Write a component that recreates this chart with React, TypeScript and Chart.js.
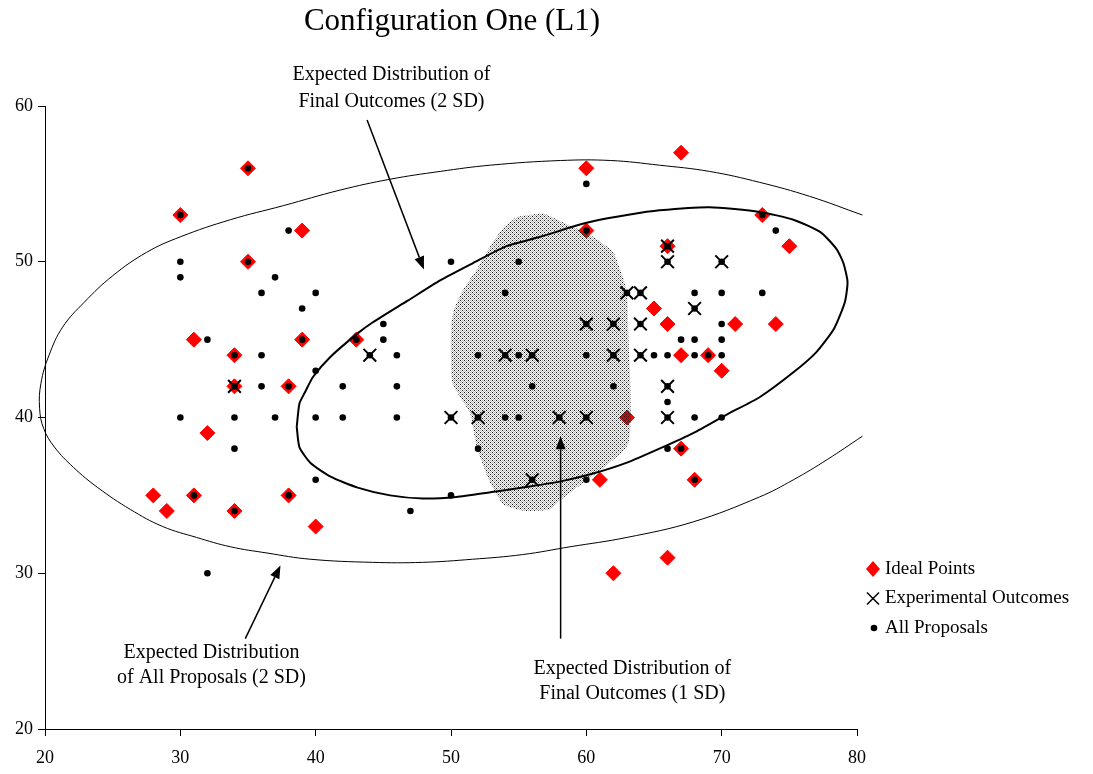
import React, { useEffect, useRef } from 'react';
import { Chart, registerables } from 'chart.js';

Chart.register(...registerables);

const TITLE = 'Configuration One (L1)';
const X_TICKS = [20, 30, 40, 50, 60, 70, 80];
const Y_TICKS = [20, 30, 40, 50, 60];

const SERIES_NAMES = ['Ideal Points', 'Experimental Outcomes', 'All Proposals'];

const idealPoints: [number, number][] = [
  [30, 53], [35, 56], [39, 52], [35, 50], [31, 45], [39, 45], [43, 45], [34, 44], [34, 42], [38, 42],
  [32, 39], [28, 35], [29, 34], [31, 35], [34, 34], [38, 35], [40, 33], [60, 56], [67, 57], [60, 52],
  [66, 51], [73, 53], [75, 51], [65, 47], [66, 46], [71, 46], [74, 46], [67, 44], [69, 44], [70, 43],
  [63, 40], [67, 38], [61, 36], [68, 36], [62, 30], [66, 31],
];

const experimentalOutcomes: [number, number][] = [
  [34, 42], [44, 44], [50, 40], [52, 40], [54, 44], [56, 44], [58, 40], [56, 36], [60, 40], [60, 46],
  [62, 46], [64, 46], [62, 44], [64, 44], [63, 48], [64, 48], [66, 51], [66, 50], [70, 50], [68, 47],
  [66, 42], [66, 40],
];

const allProposals: [number, number][] = [
  // left group
  [30, 53], [35, 56], [38, 52], [30, 50], [35, 50], [30, 49], [37, 49], [36, 48], [40, 48], [39, 47],
  [45, 46], [32, 45], [39, 45], [43, 45], [45, 45], [34, 44], [36, 44], [44, 44], [46, 44], [40, 43],
  [34, 42], [36, 42], [38, 42], [42, 42], [46, 42], [30, 40], [34, 40], [37, 40], [40, 40], [42, 40],
  [46, 40], [34, 38], [40, 36], [31, 35], [38, 35], [34, 34], [32, 30],
  // middle group
  [50, 50], [55, 50], [54, 48], [52, 44], [54, 44], [55, 44], [56, 44], [56, 42], [50, 40], [52, 40],
  [54, 40], [55, 40], [58, 40], [52, 38], [56, 36], [50, 35], [47, 34],
  // right group
  [60, 55], [60, 52], [66, 51], [73, 53], [74, 52], [66, 50], [70, 50], [63, 48], [64, 48], [68, 48],
  [70, 48], [73, 48], [68, 47], [60, 46], [62, 46], [64, 46], [70, 46], [67, 45], [68, 45], [70, 45],
  [60, 44], [62, 44], [64, 44], [65, 44], [66, 44], [68, 44], [69, 44], [70, 44], [62, 42], [66, 42],
  [66, 41], [60, 40], [66, 40], [68, 40], [70, 40], [66, 38], [67, 38], [68, 36], [60, 36],
];

// Expected distribution of all proposals (2 SD) – traced outline
const outerEllipse: [number, number][] = [
  [80.4, 53.0], [76.5, 54.2], [72.8, 55.1], [69.1, 55.8], [65.4, 56.2], [61.8, 56.5], [58.1, 56.5],
  [52.9, 56.2], [49.2, 55.8], [45.5, 55.3], [41.8, 54.6], [37.6, 53.6], [33.7, 52.7],
  [30.0, 51.6], [27.5, 50.6], [25.0, 49.1], [22.9, 47.4], [21.3, 45.8], [20.3, 44.0], [19.7, 42.2],
  [19.6, 40.6], [19.9, 39.3], [20.7, 38.1], [22.1, 36.8], [23.9, 35.5], [26.3, 34.1], [28.7, 33.0],
  [31.2, 32.3], [33.7, 31.7], [36.4, 31.3], [39.6, 30.9], [44.2, 30.7], [47.9, 30.7], [51.6, 30.9],
  [55.3, 31.2], [58.8, 31.7], [63.0, 32.3], [67.9, 33.3], [72.8, 34.9], [75.3, 36.0], [77.8, 37.3],
  [80.4, 38.8],
];

// Expected distribution of final outcomes (2 SD) – traced outline
const innerEllipse: [number, number][] = [
  [38.6, 39.4], [38.8, 40.9], [39.2, 41.6], [39.8, 42.6], [41.1, 43.9], [43.1, 45.4], [44.2, 46.1],
  [46.8, 47.5], [49.2, 48.8], [51.6, 49.9], [54.1, 51.0], [56.6, 51.6], [58.8, 52.2], [60.5, 52.6],
  [63.0, 53.0], [65.4, 53.3], [69.1, 53.5], [72.8, 53.2], [75.3, 52.7], [77.3, 51.9], [78.5, 50.8],
  [79.0, 49.9], [79.3, 48.7], [79.1, 47.4], [78.3, 45.7], [77.0, 44.2], [75.3, 42.9], [72.8, 41.3],
  [70.4, 40.2], [67.9, 39.0], [65.4, 38.0], [63.0, 37.1], [60.5, 36.4], [58.1, 35.9], [55.3, 35.5],
  [52.9, 35.2], [50.4, 34.9], [47.9, 34.8], [45.5, 35.0], [43.1, 35.5], [41.1, 36.2], [39.6, 37.1],
  [38.8, 38.1], [38.6, 39.4],
];

// Expected distribution of final outcomes (1 SD) – shaded region outline
const shadedRegion: [number, number][] = [
  [54.9, 52.9], [56.8, 53.1], [58.1, 52.6], [60.5, 51.6], [62.0, 50.6], [62.7, 49.0], [63.0, 48.0],
  [63.1, 45.6], [63.1, 38.3], [58.1, 34.7], [57.3, 34.1], [55.5, 34.0], [53.9, 34.4], [52.9, 35.8],
  [51.9, 38.1], [51.4, 40.3], [50.1, 42.2], [50.0, 45.6], [50.2, 46.9], [50.9, 48.2], [51.9, 49.5],
  [52.9, 51.0], [53.9, 52.2], [54.9, 52.9],
];

// annotations (data coordinates)
const annotationTexts: { lines: string[]; x: number; y: number[] }[] = [
  { lines: ['Expected Distribution of', 'Final Outcomes (2 SD)'], x: 45.6, y: [62.0, 60.3] },
  { lines: ['Expected Distribution', 'of All Proposals (2 SD)'], x: 32.3, y: [24.9, 23.3] },
  { lines: ['Expected Distribution of', 'Final Outcomes (1 SD)'], x: 63.4, y: [23.85, 22.25] },
];
const annotationArrows: { from: [number, number]; to: [number, number] }[] = [
  { from: [43.8, 59.1], to: [48.0, 49.5] },
  { from: [34.8, 25.8], to: [37.4, 30.5] },
  { from: [58.1, 25.8], to: [58.1, 38.8] },
];

const SERIF = '"Liberation Serif", "Times New Roman", Times, serif';
const toXY = (arr: [number, number][]) => arr.map(([x, y]) => ({ x, y }));

function makePattern(ctx: CanvasRenderingContext2D): CanvasPattern | string {
  const c = document.createElement('canvas');
  c.width = 4;
  c.height = 4;
  const p = c.getContext('2d');
  if (!p) return '#bbbbbb';
  const cells = [
    [0.9, 0, 0.3, 0],
    [0, 0.3, 0, 0.3],
    [0.3, 0, 0.9, 0],
    [0, 0.3, 0, 0.3],
  ];
  for (let r = 0; r < 4; r++) {
    for (let col = 0; col < 4; col++) {
      const a = cells[r][col];
      if (a > 0) {
        p.fillStyle = `rgba(0,0,0,${a})`;
        p.fillRect(col, r, 1, 1);
      }
    }
  }
  return ctx.createPattern(c, 'repeat') || '#bbbbbb';
}

const overlayPlugin = {
  id: 'overlay',
  afterDatasetsDraw(chart: any) {
    const { ctx, chartArea } = chart;
    const xs = chart.scales.x;
    const ys = chart.scales.y;
    ctx.save();
    // arrows
    ctx.strokeStyle = '#000';
    ctx.fillStyle = '#000';
    ctx.lineWidth = 1.5;
    for (const a of annotationArrows) {
      const x1 = xs.getPixelForValue(a.from[0]);
      const y1 = ys.getPixelForValue(a.from[1]);
      const x2 = xs.getPixelForValue(a.to[0]);
      const y2 = ys.getPixelForValue(a.to[1]);
      const ang = Math.atan2(y2 - y1, x2 - x1);
      const headLen = 13;
      const headW = 5;
      const bx = x2 - Math.cos(ang) * headLen;
      const by = y2 - Math.sin(ang) * headLen;
      ctx.beginPath();
      ctx.moveTo(x1, y1);
      ctx.lineTo(bx, by);
      ctx.stroke();
      ctx.beginPath();
      ctx.moveTo(x2, y2);
      ctx.lineTo(bx + Math.sin(ang) * headW, by - Math.cos(ang) * headW);
      ctx.lineTo(bx - Math.sin(ang) * headW, by + Math.cos(ang) * headW);
      ctx.closePath();
      ctx.fill();
    }
    // annotation texts
    ctx.font = `20px ${SERIF}`;
    ctx.textAlign = 'center';
    ctx.textBaseline = 'middle';
    for (const t of annotationTexts) {
      const px = xs.getPixelForValue(t.x);
      t.lines.forEach((line, i) => {
        ctx.fillText(line, px, ys.getPixelForValue(t.y[i]));
      });
    }
    // title
    ctx.font = `31px ${SERIF}`;
    ctx.fillText(TITLE, 452, 22);
    // legend
    const lx = chartArea.right + 16;
    const ly0 = chartArea.bottom - 160;
    const gap = 29.5;
    ctx.font = `19px ${SERIF}`;
    ctx.textAlign = 'left';
    SERIES_NAMES.forEach((name, i) => {
      const cy = ly0 + i * gap;
      if (i === 0) {
        ctx.fillStyle = '#ff0000';
        ctx.beginPath();
        ctx.moveTo(lx - 7, cy);
        ctx.lineTo(lx, cy - 8);
        ctx.lineTo(lx + 7, cy);
        ctx.lineTo(lx, cy + 8);
        ctx.closePath();
        ctx.fill();
      } else if (i === 1) {
        ctx.strokeStyle = '#000';
        ctx.lineWidth = 1.5;
        ctx.beginPath();
        ctx.moveTo(lx - 6, cy - 6);
        ctx.lineTo(lx + 6, cy + 6);
        ctx.moveTo(lx + 6, cy - 6);
        ctx.lineTo(lx - 6, cy + 6);
        ctx.stroke();
      } else {
        ctx.fillStyle = '#000';
        ctx.beginPath();
        ctx.arc(lx + 1, cy, 3.3, 0, Math.PI * 2);
        ctx.fill();
      }
      ctx.fillStyle = '#000';
      ctx.fillText(name, lx + 12, cy);
    });
    ctx.restore();
  },
};

export default function App() {
  const ref = useRef<HTMLCanvasElement>(null);
  useEffect(() => {
    const canvas = ref.current;
    if (!canvas) return;
    const ctx = canvas.getContext('2d');
    if (!ctx) return;
    const pattern = makePattern(ctx);
    const tickFont = { family: SERIF, size: 18 };
    const chart = new Chart(ctx, {
      type: 'scatter',
      data: {
        datasets: [
          {
            label: SERIES_NAMES[2],
            data: toXY(allProposals),
            pointStyle: 'circle',
            pointRadius: 3.3,
            pointBackgroundColor: '#000',
            pointBorderWidth: 0,
            order: 1,
          } as any,
          {
            label: SERIES_NAMES[1],
            data: toXY(experimentalOutcomes),
            pointStyle: 'crossRot',
            pointRadius: 9,
            pointBorderColor: '#000',
            pointBorderWidth: 2,
            order: 2,
          },
          {
            type: 'line',
            label: 'Final Outcomes (2 SD)',
            data: toXY(innerEllipse),
            borderColor: '#000',
            borderWidth: 2,
            pointRadius: 0,
            tension: 0.2,
            fill: false,
            order: 3,
          },
          {
            type: 'line',
            label: 'All Proposals (2 SD)',
            data: toXY(outerEllipse),
            borderColor: '#000',
            borderWidth: 1,
            pointRadius: 0,
            tension: 0.4,
            fill: false,
            clip: false,
            order: 3,
          },
          {
            type: 'line',
            label: 'Final Outcomes (1 SD)',
            data: toXY(shadedRegion),
            borderWidth: 0,
            borderColor: 'rgba(0,0,0,0)',
            backgroundColor: pattern,
            pointRadius: 0,
            tension: 0.15,
            fill: 'shape',
            order: 4,
          },
          {
            label: SERIES_NAMES[0],
            data: toXY(idealPoints),
            pointStyle: 'rectRot',
            pointRadius: 7.5,
            pointBackgroundColor: '#ff0000',
            pointBorderColor: '#ff0000',
            pointBorderWidth: 1,
            order: 5,
          },
        ] as any,
      },
      options: {
        responsive: false,
        animation: false,
        devicePixelRatio: 1,
        layout: { padding: { left: 0, right: 236, top: 106, bottom: 0 } },
        elements: { line: { capBezierPoints: false } },
        plugins: {
          legend: { display: false },
          tooltip: { enabled: false },
          title: { display: false },
        },
        events: [],
        scales: {
          x: {
            type: 'linear',
            min: 20,
            max: 80,
            afterBuildTicks: (s: any) => {
              s.ticks = X_TICKS.map((v) => ({ value: v }));
            },
            afterFit: (s: any) => {
              s.height = 45;
            },
            ticks: { color: '#000', font: tickFont, padding: 11, maxRotation: 0, autoSkip: false },
            grid: { drawOnChartArea: false, drawTicks: true, tickLength: 7, color: '#000', lineWidth: 1 },
            border: { display: true, color: '#000', width: 1 },
          },
          y: {
            type: 'linear',
            min: 20,
            max: 60,
            afterBuildTicks: (s: any) => {
              s.ticks = Y_TICKS.map((v) => ({ value: v }));
            },
            afterFit: (s: any) => {
              s.width = 45;
            },
            ticks: { color: '#000', font: tickFont, padding: 5, autoSkip: false },
            grid: { drawOnChartArea: false, drawTicks: true, tickLength: 7, color: '#000', lineWidth: 1 },
            border: { display: true, color: '#000', width: 1 },
          },
        },
      } as any,
      plugins: [overlayPlugin],
    });
    return () => chart.destroy();
  }, []);
  return (
    <div style={{ position: 'fixed', left: 0, top: 0, width: 1093, height: 774, background: '#fff' }}>
      <canvas ref={ref} width={1093} height={774} style={{ display: 'block', width: 1093, height: 774 }} />
    </div>
  );
}
